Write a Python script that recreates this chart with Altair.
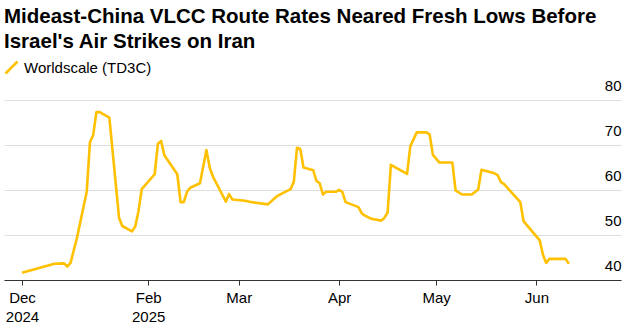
import altair as alt
import pandas as pd

dates = ["2024-12-24", "2025-01-03", "2025-01-06", "2025-01-07", "2025-01-08", "2025-01-10",
         "2025-01-13", "2025-01-14", "2025-01-15", "2025-01-16", "2025-01-17", "2025-01-20",
         "2025-01-23", "2025-01-24", "2025-01-27", "2025-01-28", "2025-01-29", "2025-01-30",
         "2025-02-03", "2025-02-04", "2025-02-05", "2025-02-06", "2025-02-10", "2025-02-11",
         "2025-02-12", "2025-02-13", "2025-02-14", "2025-02-17", "2025-02-19", "2025-02-20",
         "2025-02-21", "2025-02-25", "2025-02-26", "2025-02-27", "2025-03-03", "2025-03-05",
         "2025-03-10", "2025-03-12", "2025-03-13", "2025-03-14", "2025-03-17", "2025-03-18",
         "2025-03-19", "2025-03-20", "2025-03-21", "2025-03-24", "2025-03-25", "2025-03-26",
         "2025-03-27", "2025-03-28", "2025-03-31", "2025-04-01", "2025-04-02", "2025-04-03",
         "2025-04-07", "2025-04-08", "2025-04-09", "2025-04-11", "2025-04-14", "2025-04-15",
         "2025-04-16", "2025-04-17", "2025-04-22", "2025-04-23", "2025-04-25", "2025-04-28",
         "2025-04-29", "2025-04-30", "2025-05-02", "2025-05-06", "2025-05-07", "2025-05-09",
         "2025-05-12", "2025-05-14", "2025-05-15", "2025-05-19", "2025-05-20", "2025-05-21",
         "2025-05-22", "2025-05-27", "2025-05-28", "2025-06-02", "2025-06-03", "2025-06-04",
         "2025-06-05", "2025-06-10", "2025-06-11"]

values = [41.6, 43.6, 43.7, 43.0, 43.8, 49.4,
          59.6, 70.6, 72.2, 77.3, 77.3, 76.1,
          53.8, 52.0, 50.8, 51.9, 55.3, 60.2,
          63.5, 70.3, 70.9, 67.7, 63.5, 57.3,
          57.3, 59.6, 60.5, 61.5, 68.9, 65.0,
          63.0, 57.4, 59.1, 57.9, 57.6, 57.3,
          56.8, 58.1, 58.7, 59.1, 60.2, 61.8,
          69.4, 69.1, 65.0, 64.4, 62.0, 61.5,
          59.0, 59.6, 59.6, 60.0, 59.6, 57.3,
          56.2, 54.8, 54.3, 53.6, 53.2, 53.8,
          55.0, 65.6, 63.6, 69.7, 72.8, 72.8,
          72.3, 67.8, 66.1, 66.1, 59.9, 59.0,
          59.0, 60.1, 64.5, 63.7, 63.3, 61.8,
          61.3, 57.3, 53.1, 48.8, 45.6, 43.8,
          44.7, 44.7, 43.6]

series_name = "Worldscale (TD3C)"
title_lines = ["Mideast-China VLCC Route Rates Neared Fresh Lows Before",
               "Israel's Air Strikes on Iran"]
y_ticks = [40, 50, 60, 70, 80]

df = pd.DataFrame({"date": dates, "value": values, "series": series_name})

FONT = "Liberation Sans"
YELLOW = "#ffc000"

x_tick_values = [
    alt.DateTime(year=2024, month=12, date=24, utc=True),
    alt.DateTime(year=2025, month=2, date=1, utc=True),
    alt.DateTime(year=2025, month=3, date=1, utc=True),
    alt.DateTime(year=2025, month=4, date=1, utc=True),
    alt.DateTime(year=2025, month=5, date=1, utc=True),
    alt.DateTime(year=2025, month=6, date=1, utc=True),
]

chart = alt.Chart(df).mark_line(color=YELLOW, strokeWidth=2.6, strokeJoin="round").encode(
    x=alt.X(
        "date:T",
        title=None,
        scale=alt.Scale(
            type="utc",
            domain=[alt.DateTime(year=2024, month=12, date=18, hours=10, minutes=30, utc=True),
                    alt.DateTime(year=2025, month=6, date=27, hours=3, utc=True)],
        ),
        axis=alt.Axis(
            values=x_tick_values,
            labelExpr="[utcFormat(datum.value, '%b'), (utcmonth(datum.value) == 11 || utcmonth(datum.value) == 1) ? utcFormat(datum.value, '%Y') : '']",
            grid=False,
            domainColor="#333333",
            tickColor="#333333",
            tickSize=5,
            labelFontSize=15,
            labelFont=FONT,
            labelColor="#000000",
            labelPadding=5,
            labelLineHeight=19,
            labelFlush=False,
            labelOverlap=False,
        ),
    ),
    y=alt.Y(
        "value:Q",
        title=None,
        scale=alt.Scale(domain=[40, 80], nice=False, zero=False),
        axis=alt.Axis(
            orient="right",
            values=y_ticks,
            domain=False,
            ticks=False,
            tickSize=0,
            grid=True,
            gridColor="#dedede",
            gridWidth=1,
            labelFontSize=15,
            labelFont=FONT,
            labelColor="#000000",
            labelAlign="right",
            labelBaseline="alphabetic",
            labelPadding=0,
            labelOffset=-10,
        ),
    ),
    color=alt.Color(
        "series:N",
        scale=alt.Scale(range=[YELLOW]),
        legend=alt.Legend(
            title=None,
            orient="none",
            legendX=0,
            legendY=-40,
            padding=0,
            symbolType="M-1,1L1,-1",
            symbolSize=144,
            symbolStrokeWidth=2.6,
            labelFontSize=15,
            labelFont=FONT,
            labelColor="#000000",
            labelOffset=5,
        ),
    ),
).properties(
    width=617,
    height=180,
    title=alt.TitleParams(
        text=title_lines,
        anchor="start",
        frame="group",
        font=FONT,
        fontSize=20.5,
        fontWeight="bold",
        color="#000000",
        lineHeight=25,
        offset=8,
    ),
    padding={"left": 4, "top": 100, "right": 10, "bottom": 54},
    autosize=alt.AutoSizeParams(type="none"),
).configure_view(stroke=None)

chart.save("out.html", embed_options={"renderer": "svg", "actions": False})
